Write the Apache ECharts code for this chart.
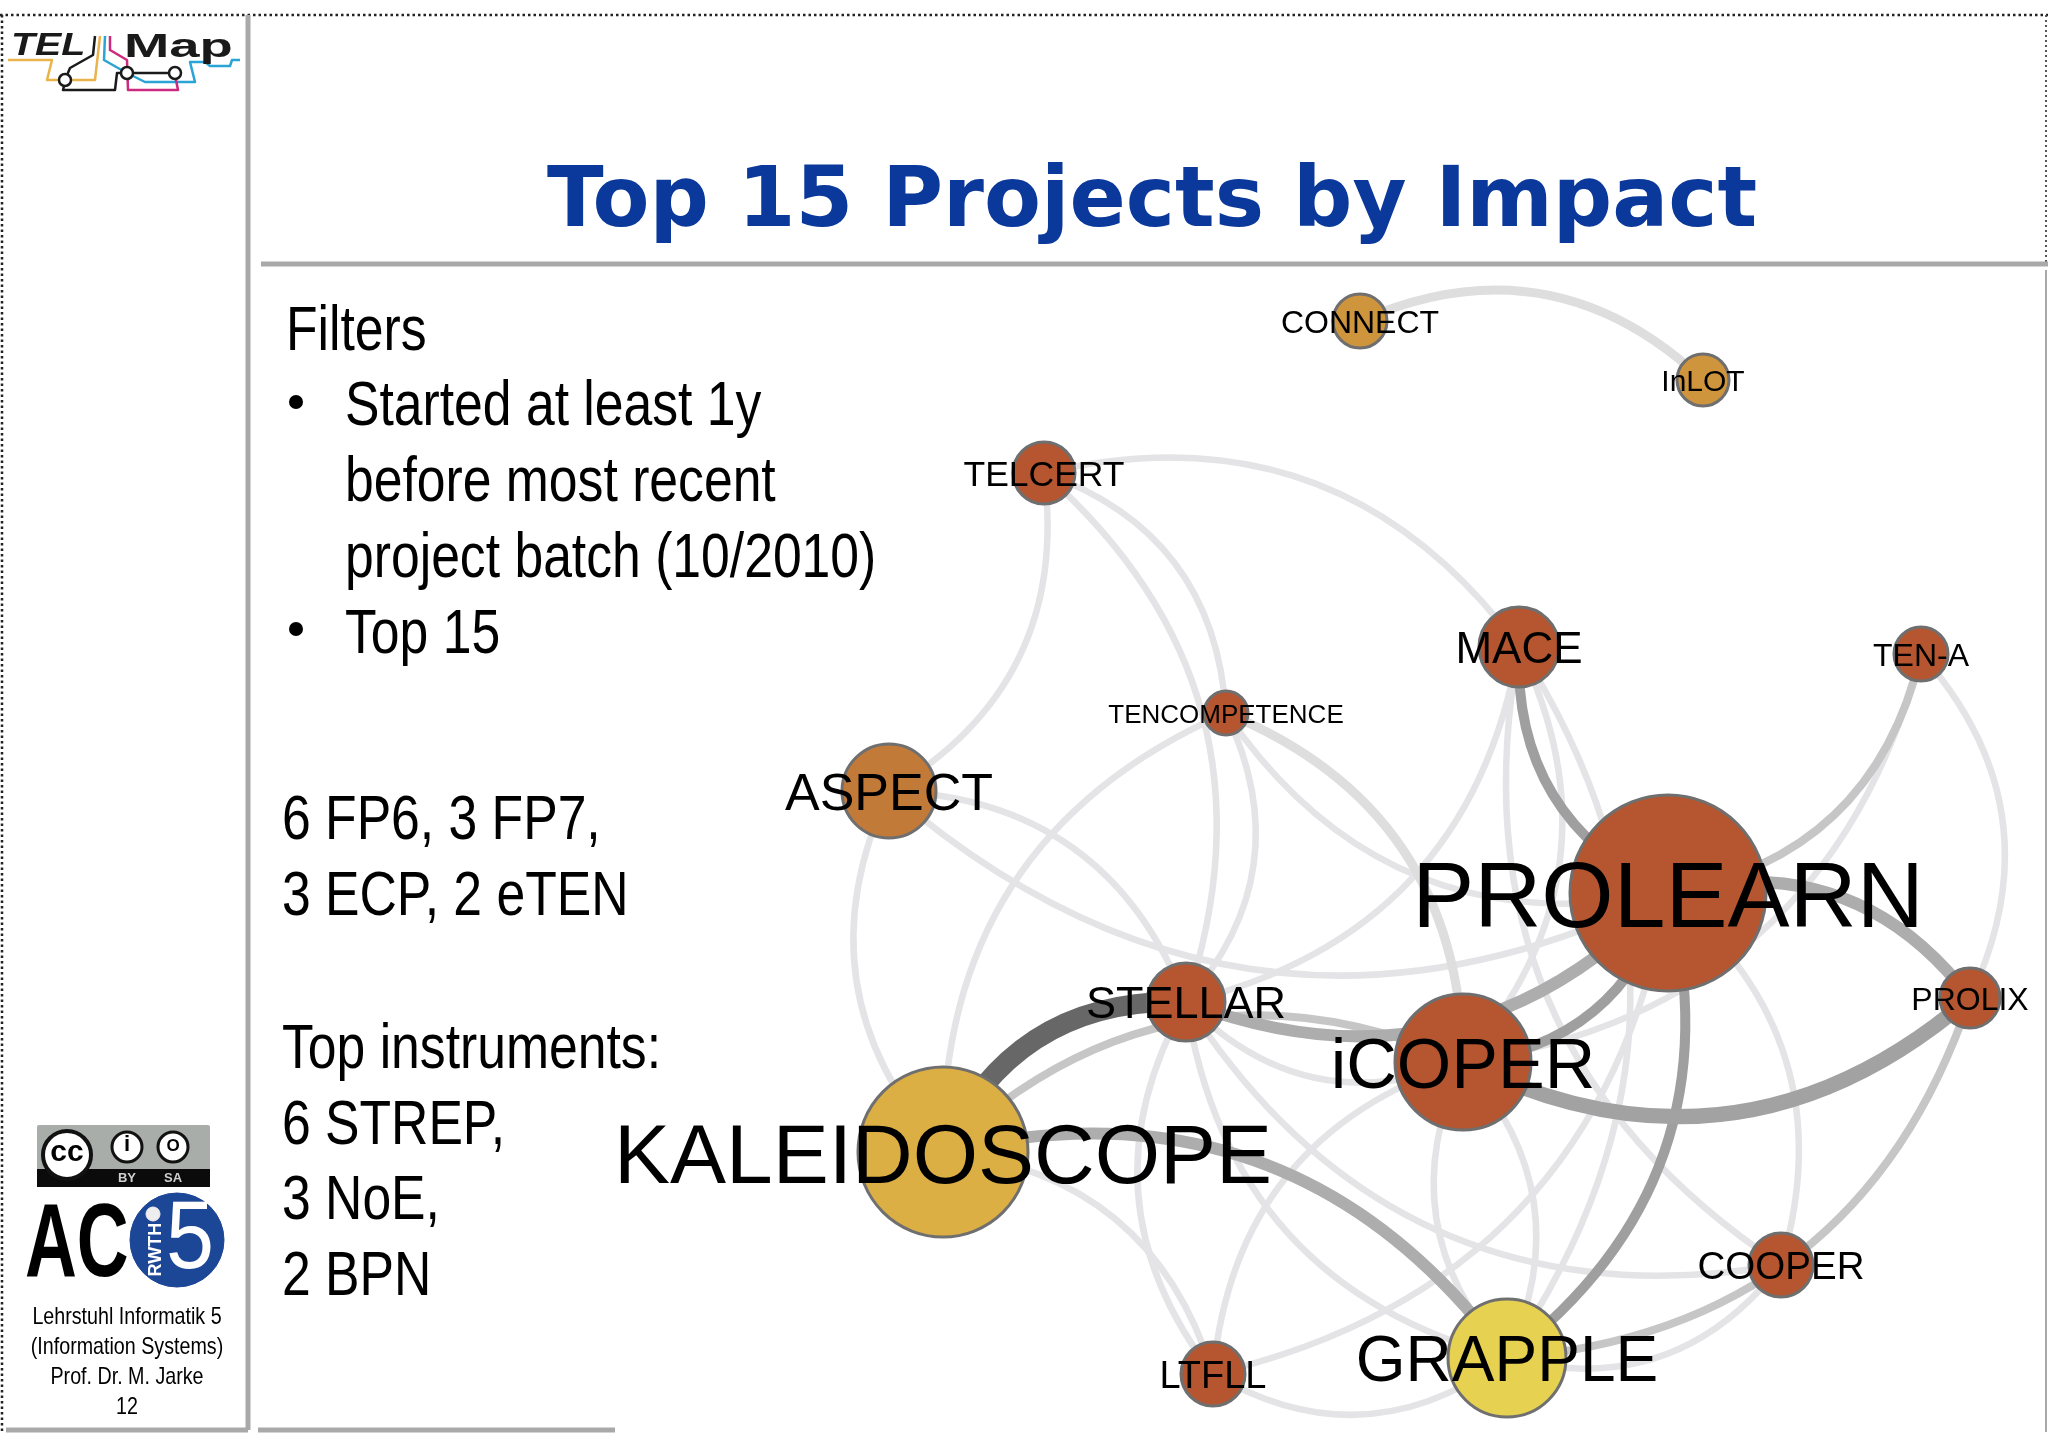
<!DOCTYPE html>
<html>
<head>
<meta charset="utf-8">
<title>Top 15 Projects by Impact</title>
<script src="https://cdn.jsdelivr.net/npm/echarts@6/dist/echarts.min.js"></script>
<style>
  html, body { margin: 0; padding: 0; background: #fff; }
  #main { width: 2048px; height: 1447px; }
</style>
</head>
<body>
<div id="main"></div>
<script>
// projects
var projects = ['CONNECT', 'InLOT', 'TELCERT', 'MACE', 'TEN-A', 'TENCOMPETENCE', 'ASPECT', 'PROLEARN', 'STELLAR', 'PROLIX', 'iCOPER', 'KALEIDOSCOPE', 'COOPER', 'LTFLL', 'GRAPPLE'];
var layoutX = [1360, 1703, 1044, 1519, 1921, 1226, 889, 1668, 1186, 1970, 1463, 943, 1781, 1213, 1507];
var layoutY = [321, 380, 473, 647, 654, 713, 791, 893, 1002, 998, 1062, 1152, 1265, 1374, 1358];
var impact = [27, 26, 31, 40, 27, 22, 47, 98, 39, 30, 68, 85, 32, 32, 59];
var nodeGroup = [1, 1, 0, 0, 0, 0, 2, 0, 0, 0, 0, 3, 0, 0, 4];

// links: from, to, strength. The from -> to order decides which side the arc bulges
var links = [
  ['CONNECT', 'InLOT', 2],
  ['TELCERT', 'MACE', 1],
  ['TELCERT', 'ASPECT', 1],
  ['TELCERT', 'TENCOMPETENCE', 1],
  ['TELCERT', 'STELLAR', 1],
  ['KALEIDOSCOPE', 'ASPECT', 1],
  ['PROLEARN', 'ASPECT', 1],
  ['ASPECT', 'STELLAR', 1],
  ['KALEIDOSCOPE', 'TENCOMPETENCE', 1],
  ['TENCOMPETENCE', 'STELLAR', 1],
  ['TENCOMPETENCE', 'iCOPER', 2],
  ['PROLEARN', 'TENCOMPETENCE', 1],
  ['PROLEARN', 'MACE', 5],
  ['MACE', 'STELLAR', 1],
  ['COOPER', 'MACE', 1],
  ['MACE', 'GRAPPLE', 1],
  ['MACE', 'iCOPER', 1],
  ['TEN-A', 'PROLEARN', 3],
  ['TEN-A', 'iCOPER', 1],
  ['TEN-A', 'PROLIX', 1],
  ['PROLEARN', 'PROLIX', 4],
  ['PROLIX', 'iCOPER', 7],
  ['PROLIX', 'GRAPPLE', 3],
  ['PROLEARN', 'GRAPPLE', 5],
  ['PROLEARN', 'iCOPER', 5],
  ['PROLEARN', 'STELLAR', 4],
  ['iCOPER', 'STELLAR', 1],
  ['KALEIDOSCOPE', 'iCOPER', 3],
  ['KALEIDOSCOPE', 'STELLAR', 6],
  ['KALEIDOSCOPE', 'GRAPPLE', 4],
  ['KALEIDOSCOPE', 'LTFLL', 1],
  ['COOPER', 'STELLAR', 1],
  ['LTFLL', 'STELLAR', 1],
  ['GRAPPLE', 'STELLAR', 1],
  ['LTFLL', 'iCOPER', 1],
  ['PROLEARN', 'LTFLL', 1],
  ['GRAPPLE', 'LTFLL', 1],
  ['GRAPPLE', 'iCOPER', 1],
  ['iCOPER', 'GRAPPLE', 1],
  ['COOPER', 'GRAPPLE', 1],
  ['PROLEARN', 'COOPER', 1]
];

// slide texts
var slideTitle = 'Top 15 Projects by Impact';
var filterLines = ['Filters', 'Started at least 1y', 'before most recent', 'project batch (10/2010)', 'Top 15'];
var programmeLines = ['6 FP6, 3 FP7,', '3 ECP, 2 eTEN'];
var instrumentLines = ['Top instruments:', '6 STREP,', '3 NoE,', '2 BPN'];
var footerLines = ['Lehrstuhl Informatik 5', '(Information Systems)', 'Prof. Dr. M. Jarke', '12'];

// styles
var nodeColors = ['#b55630', '#cf953c', '#c27a38', '#dcaf45', '#e6d250'];
var linkColors = { 1: '#e4e3e6', 2: '#dededf', 3: '#c6c6c7', 4: '#adadae', 5: '#9f9fa0', 6: '#676768', 7: '#a2a2a3' };
var linkWidths = { 1: 6.5, 2: 9, 3: 8, 4: 12, 5: 10, 6: 20, 7: 15 };
var labelSizes = { 'CONNECT': 32, 'InLOT': 30, 'TELCERT': 35.5, 'MACE': 44, 'TEN-A': 32, 'TENCOMPETENCE': 26, 'ASPECT': 52, 'PROLEARN': 93, 'STELLAR': 45, 'PROLIX': 32, 'iCOPER': 70, 'KALEIDOSCOPE': 84, 'COOPER': 38.5, 'LTFLL': 38, 'GRAPPLE': 64 };
var sansFont = '"Liberation Sans", Arial, sans-serif';
var narrowScale = 0.82; // the slide text is squeezed Arial
var frameGrey = '#a9a9a9';

var nodes = projects.map(function (name, i) {
  var size = labelSizes[name];
  return {
    name: name,
    value: [layoutX[i], layoutY[i]],
    symbolSize: impact[i] * 2,
    itemStyle: { color: nodeColors[nodeGroup[i]] },
    label: { fontSize: size, offset: [0, size * 0.09] }
  };
});

// light arcs go first so the heavy ones stay on top
var edges = links.slice().sort(function (a, b) { return a[2] - b[2]; }).map(function (l) {
  return {
    source: l[0],
    target: l[1],
    value: l[2],
    lineStyle: { color: linkColors[l[2]], width: linkWidths[l[2]] }
  };
});

function text(str, x, y, size, opts) {
  opts = opts || {};
  return {
    type: 'text',
    x: x,
    y: y + size * 0.09,
    scaleX: opts.scaleX || 1,
    rotation: opts.rotation || 0,
    z: opts.z || 10,
    style: {
      text: str,
      fontSize: size,
      fontFamily: opts.font || sansFont,
      fontWeight: opts.weight || 'normal',
      fontStyle: opts.italic ? 'italic' : 'normal',
      fill: opts.color || '#000',
      textAlign: opts.align || 'left',
      textVerticalAlign: 'middle'
    }
  };
}

function line(x1, y1, x2, y2, color, width, dash) {
  return {
    type: 'line',
    z: 1,
    shape: { x1: x1, y1: y1, x2: x2, y2: y2 },
    style: { stroke: color, lineWidth: width, lineDash: dash || null }
  };
}

function poly(points, color, width) {
  return {
    type: 'polyline',
    z: 2,
    shape: { points: points },
    style: { stroke: color, lineWidth: width, fill: null, lineJoin: 'round' }
  };
}

function ring(x, y, r, fill, stroke, width) {
  return {
    type: 'circle',
    z: 4,
    shape: { cx: x, cy: y, r: r },
    style: { fill: fill, stroke: stroke, lineWidth: width }
  };
}

var slide = [
  // frame
  line(0, 15, 2048, 15, '#222', 2.5, [2.5, 3]),
  line(2, 15, 2, 1432, '#222', 2.5, [2.5, 3]),
  line(2046, 15, 2046, 262, '#555', 2, [2, 3]),
  line(248, 15, 248, 1430, frameGrey, 5),
  line(261, 264, 2048, 264, frameGrey, 5),
  line(2046, 270, 2046, 1432, frameGrey, 2),
  line(6, 1430, 248, 1430, frameGrey, 5),
  line(258, 1430, 615, 1430, frameGrey, 5),

  // TEL Map logo
  poly([[8, 60], [52, 60], [47, 80], [95, 80], [100, 36]], '#e9b44c', 2.5),
  poly([[105, 36], [104, 60], [125, 72], [145, 82], [195, 82], [190, 62], [205, 62], [210, 66], [230, 66], [232, 60], [240, 60]], '#2aa3d5', 2.5),
  poly([[110, 36], [110, 50], [127, 60], [128, 90], [178, 90], [175, 75]], '#cc2a7f', 2.5),
  poly([[95, 36], [93, 55], [70, 68], [65, 80]], '#1a1a1a', 2.5),
  poly([[65, 82], [63, 90], [115, 90], [117, 73], [175, 73]], '#1a1a1a', 2.5),
  ring(65, 80, 6, '#fff', '#1a1a1a', 2.5),
  ring(127, 73, 6, '#fff', '#1a1a1a', 2.5),
  ring(175, 73, 6, '#fff', '#1a1a1a', 2.5),
  text('TEL', 11, 44, 31, { weight: 'bold', italic: true, color: '#1a1a1a', scaleX: 1.27 }),
  text('Map', 124, 45, 34, { weight: 'bold', color: '#1a1a1a', scaleX: 1.6 }),

  // CC badge
  { type: 'rect', z: 2, shape: { x: 37, y: 1125, width: 173, height: 62, r: 2 }, style: { fill: '#a9ada9' } },
  { type: 'rect', z: 3, shape: { x: 37, y: 1169, width: 173, height: 18 }, style: { fill: '#0b0b0b' } },
  ring(67, 1155, 24, '#fff', '#111', 4),
  ring(127, 1147, 15, '#fff', '#111', 3),
  ring(173, 1147, 15, '#fff', '#111', 3),
  text('cc', 67, 1150, 30, { weight: 'bold', align: 'center' }),
  text('i', 127, 1143, 22, { weight: 'bold', align: 'center' }),
  text('O', 173, 1145, 17, { weight: 'bold', align: 'center' }),
  text('BY', 127, 1177, 13, { weight: 'bold', align: 'center', color: '#cfcfcf' }),
  text('SA', 173, 1177, 13, { weight: 'bold', align: 'center', color: '#cfcfcf' }),

  // AC i5 logo
  text('AC', 25, 1238, 104, { weight: 'bold', scaleX: 0.69 }),
  ring(177, 1240, 47, '#1c4797', '#1c4797', 1),
  ring(153, 1214, 7, '#eee', '#eee', 1),
  text('5', 190, 1233, 96, { align: 'center', color: '#fff', scaleX: 0.9 }),
  text('RWTH', 156, 1248, 18, { weight: 'bold', align: 'center', color: '#fff', rotation: Math.PI / 2 }),

  // bullets
  ring(296, 402, 7, '#000', '#000', 0),
  ring(296, 629, 7, '#000', '#000', 0),

  text(slideTitle, 1152, 197, 83, { font: '"DejaVu Sans", sans-serif', weight: 'bold', color: '#0a389b', align: 'center' })
];

var filterPos = [[286, 327], [345, 402], [345, 478], [345, 554], [345, 630]];
filterLines.forEach(function (s, i) { slide.push(text(s, filterPos[i][0], filterPos[i][1], 63, { scaleX: narrowScale })); });
programmeLines.forEach(function (s, i) { slide.push(text(s, 282, 816 + i * 76, 63, { scaleX: narrowScale })); });
instrumentLines.forEach(function (s, i) { slide.push(text(s, 282, 1045 + i * 75.5, 63, { scaleX: narrowScale })); });
footerLines.forEach(function (s, i) { slide.push(text(s, 127, 1315 + i * 30, 24, { align: 'center', scaleX: narrowScale })); });

var myChart = echarts.init(document.getElementById('main'), null, { renderer: 'canvas' });
myChart.setOption({
  animation: false,
  backgroundColor: '#fff',
  grid: { left: 0, right: 0, top: 0, bottom: 0 },
  xAxis: { type: 'value', min: 0, max: 2048, show: false },
  yAxis: { type: 'value', min: 0, max: 1447, inverse: true, show: false },
  graphic: slide,
  series: [{
    type: 'graph',
    layout: 'none',
    coordinateSystem: 'cartesian2d',
    silent: true,
    symbol: 'circle',
    data: nodes,
    links: edges,
    itemStyle: { borderColor: '#6f6f6f', borderWidth: 3, opacity: 1 },
    lineStyle: { curveness: 0.33, opacity: 1 },
    label: {
      show: true,
      position: 'inside',
      color: '#000',
      fontFamily: sansFont,
      formatter: '{b}'
    }
  }]
});
</script>
</body>
</html>
